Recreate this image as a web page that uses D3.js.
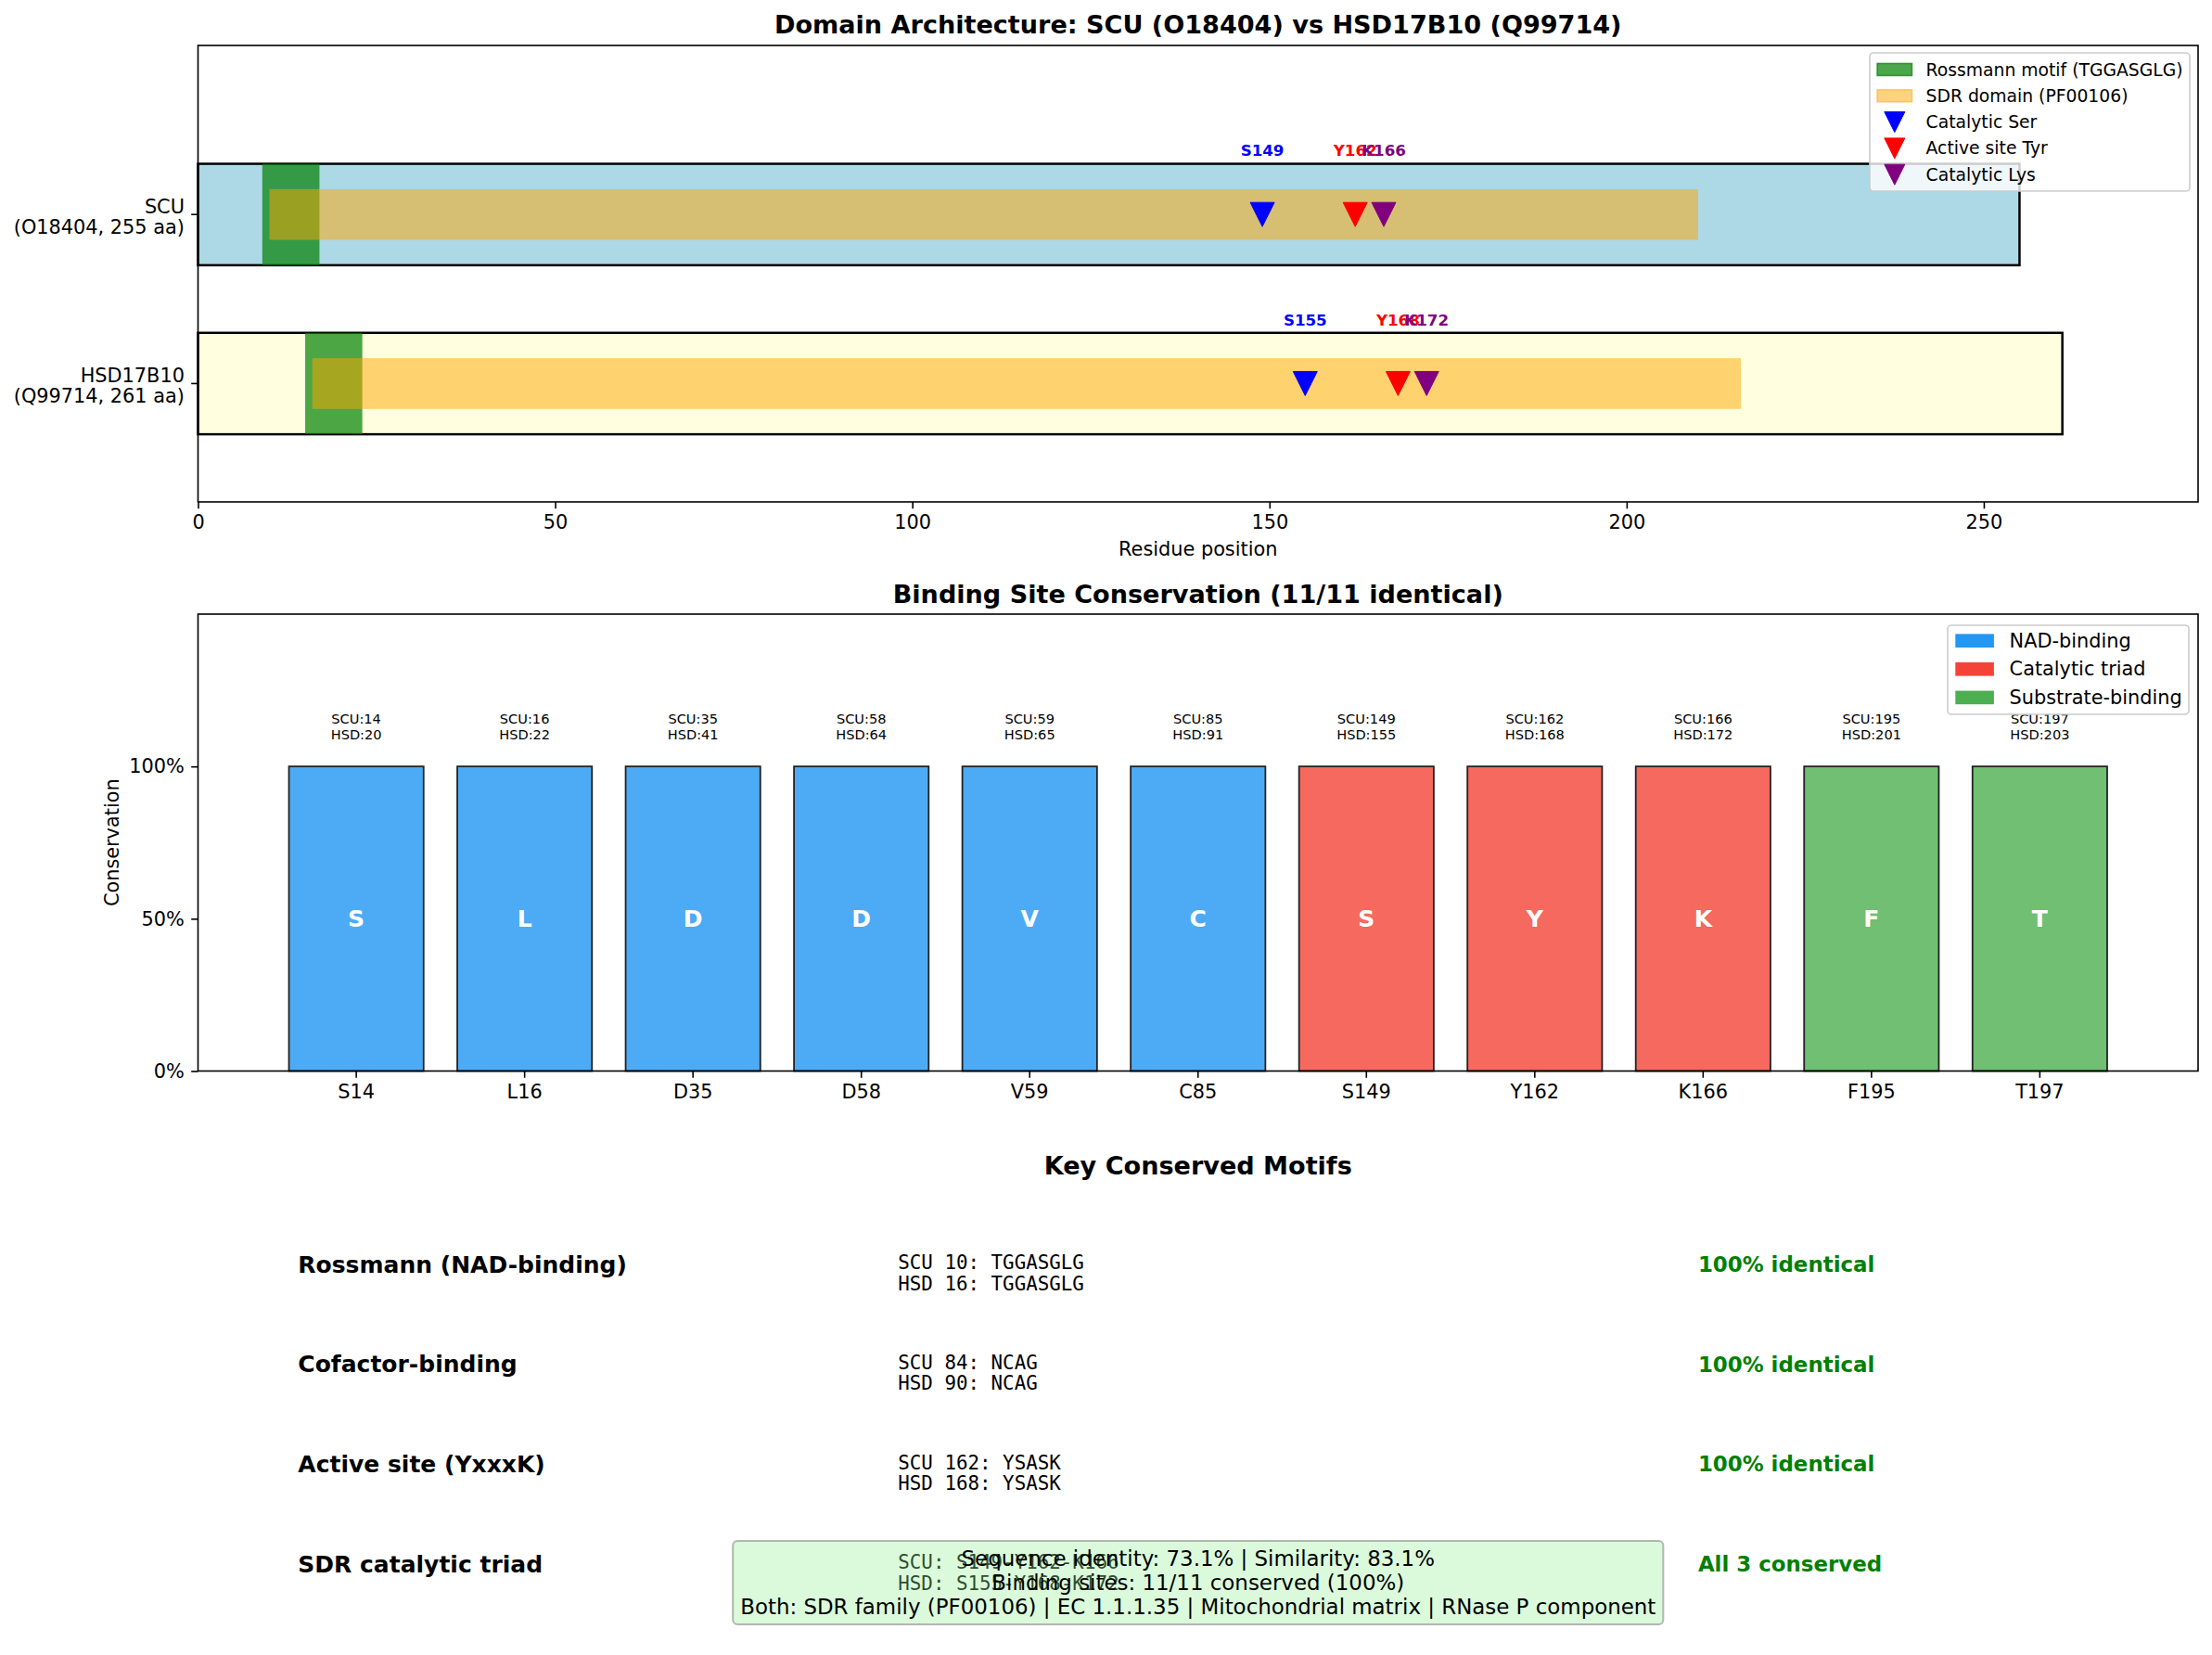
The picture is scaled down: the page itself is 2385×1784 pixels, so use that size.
<!DOCTYPE html>
<html>
<head>
<meta charset="utf-8">
<script src="https://cdn.jsdelivr.net/npm/d3@7"></script>
<style>
  body { margin: 0; background: #fff; }
  svg { display: block; font-family: "DejaVu Sans", sans-serif; }
</style>
</head>
<body>
<div id="chart"></div>
<script>
// ---- data: domain architecture ----
const proteins = ["SCU", "HSD17B10"];
const proteinLabels = [["SCU", "(O18404, 255 aa)"], ["HSD17B10", "(Q99714, 261 aa)"]];
const proteinLengths = [255, 261];
const proteinColors = ["#ADD8E6", "#FFFFE0"];
const rossmannStart = [10, 16];
const rossmannMotif = "TGGASGLG";
const sdrStart = [10, 16];
const sdrEnd = [210, 216];
const catalyticSer = [149, 155];
const activeTyr = [162, 168];
const catalyticLys = [166, 172];
const residueTicks = [0, 50, 100, 150, 200, 250];

// ---- data: binding sites ----
const siteLabels = ["S14", "L16", "D35", "D58", "V59", "C85", "S149", "Y162", "K166", "F195", "T197"];
const siteResidues = ["S", "L", "D", "D", "V", "C", "S", "Y", "K", "F", "T"];
const scuPositions = [14, 16, 35, 58, 59, 85, 149, 162, 166, 195, 197];
const hsdPositions = [20, 22, 41, 64, 65, 91, 155, 168, 172, 201, 203];
const siteTypes = ["NAD", "NAD", "NAD", "NAD", "NAD", "NAD", "Catalytic", "Catalytic", "Catalytic", "Substrate", "Substrate"];
const conservation = [100, 100, 100, 100, 100, 100, 100, 100, 100, 100, 100];
const conservationTicks = [0, 50, 100];

// ---- data: motifs ----
const motifNames = ["Rossmann (NAD-binding)", "Cofactor-binding", "Active site (YxxxK)", "SDR catalytic triad"];
const motifScu = ["SCU 10: TGGASGLG", "SCU 84: NCAG", "SCU 162: YSASK", "SCU: S149-Y162-K166"];
const motifHsd = ["HSD 16: TGGASGLG", "HSD 90: NCAG", "HSD 168: YSASK", "HSD: S155-Y168-K172"];
const motifStatus = ["100% identical", "100% identical", "100% identical", "All 3 conserved"];
const summaryLines = [
    "Sequence identity: 73.1% | Similarity: 83.1%",
    "Binding sites: 11/11 conserved (100%)",
    "Both: SDR family (PF00106) | EC 1.1.1.35 | Mitochondrial matrix | RNase P component"
];

const W = 2385, H = 1784;
const pt = v => v * 150 / 72;
const MONO = "'DejaVu Sans Mono', monospace";

const svg = d3.select("#chart").append("svg")
    .attr("width", W)
    .attr("height", H);

// helper: text block with several lines centred on y
function block(g, lines, x, y, lineH, opts) {
    const t = g.append("text")
        .attr("x", x)
        .attr("text-anchor", opts.anchor || "middle")
        .attr("font-size", opts.size)
        .attr("font-weight", opts.weight || "normal")
        .attr("font-family", opts.family || null)
        .attr("fill", opts.fill || "#000");
    const y0 = y - (lines.length - 1) * lineH / 2;
    lines.forEach((l, i) => {
        t.append("tspan")
            .attr("x", x)
            .attr("y", y0 + i * lineH)
            .attr("dominant-baseline", "central")
            .text(l);
    });
    return t;
}

function styleAxis(g) {
    g.select(".domain").remove();
    g.selectAll(".tick line").attr("stroke", "#000").attr("stroke-width", 1.6);
    g.selectAll(".tick text").attr("font-size", pt(10)).attr("font-family", "DejaVu Sans").attr("fill", "#000");
}

function triangle(size) {
    const s = size / 2;
    return `M${-s},${-s}L${s},${-s}L0,${s}Z`;
}

// ================= Panel 1: domain architecture =================
const p1 = { left: 213.5, right: 2370, top: 49, bottom: 541 };
const x1 = d3.scaleLinear().domain([0, 280]).range([p1.left, p1.right]);
const y1 = d3.scaleLinear().domain([-0.7, 2.0]).range([p1.bottom, p1.top]);
const rowOf = i => proteins.length - 1 - i;   // SCU on top

const g1 = svg.append("g");
proteins.forEach((p, i) => {
    const r = rowOf(i);
    g1.append("rect")
        .attr("x", x1(0)).attr("width", x1(proteinLengths[i]) - x1(0))
        .attr("y", y1(r + 0.3)).attr("height", y1(r - 0.3) - y1(r + 0.3))
        .attr("fill", proteinColors[i])
        .attr("stroke", "#000").attr("stroke-width", 2.5);
    g1.append("rect")
        .attr("x", x1(rossmannStart[i] - 1))
        .attr("width", x1(rossmannStart[i] - 1 + rossmannMotif.length) - x1(rossmannStart[i] - 1))
        .attr("y", y1(r + 0.3)).attr("height", y1(r - 0.3) - y1(r + 0.3))
        .attr("fill", "green").attr("fill-opacity", 0.7);
    g1.append("rect")
        .attr("x", x1(sdrStart[i])).attr("width", x1(sdrEnd[i]) - x1(sdrStart[i]))
        .attr("y", y1(r + 0.15)).attr("height", y1(r - 0.15) - y1(r + 0.15))
        .attr("fill", "orange").attr("fill-opacity", 0.5);

    const marks = [
        { pos: catalyticSer[i], c: "blue", l: "S" },
        { pos: activeTyr[i], c: "red", l: "Y" },
        { pos: catalyticLys[i], c: "purple", l: "K" }
    ];
    marks.forEach(m => {
        g1.append("path")
            .attr("d", triangle(26))
            .attr("transform", `translate(${x1(m.pos)},${y1(r)})`)
            .attr("fill", m.c).attr("stroke", m.c).attr("stroke-width", 1);
        g1.append("text")
            .attr("x", x1(m.pos)).attr("y", y1(r + 0.375))
            .attr("dominant-baseline", "central")
            .attr("text-anchor", "middle")
            .attr("font-size", pt(8)).attr("font-weight", "bold")
            .attr("fill", m.c)
            .text(m.l + m.pos);
    });
});

// axes panel 1
const ax1 = svg.append("g")
    .attr("transform", `translate(0,${p1.bottom})`)
    .call(d3.axisBottom(x1).tickValues(residueTicks).tickSize(7.3).tickPadding(7.3));
styleAxis(ax1);
proteins.forEach((p, i) => {
    const r = rowOf(i);
    svg.append("line")
        .attr("x1", p1.left - 7.3).attr("x2", p1.left)
        .attr("y1", y1(r)).attr("y2", y1(r))
        .attr("stroke", "#000").attr("stroke-width", 1.6);
    block(svg, proteinLabels[i], p1.left - 14.6, y1(r) + 3, 22, { anchor: "end", size: pt(10) });
});
svg.append("rect")
    .attr("x", p1.left).attr("y", p1.top)
    .attr("width", p1.right - p1.left).attr("height", p1.bottom - p1.top)
    .attr("fill", "none").attr("stroke", "#000").attr("stroke-width", 1.6);
svg.append("text")
    .attr("x", (p1.left + p1.right) / 2).attr("y", 592)
    .attr("dominant-baseline", "central").attr("text-anchor", "middle")
    .attr("font-size", pt(10)).text("Residue position");
svg.append("text")
    .attr("x", (p1.left + p1.right) / 2).attr("y", 26)
    .attr("dominant-baseline", "central").attr("text-anchor", "middle")
    .attr("font-size", pt(13)).attr("font-weight", "bold")
    .text("Domain Architecture: SCU (O18404) vs HSD17B10 (Q99714)");

// legend panel 1
const lg1 = svg.append("g");
lg1.append("rect")
    .attr("x", 2016).attr("y", 57).attr("width", 345).attr("height", 149)
    .attr("rx", 4).attr("fill", "#fff").attr("fill-opacity", 0.8)
    .attr("stroke", "#cccccc").attr("stroke-width", 1.6);
const legend1 = [
    { label: "Rossmann motif (TGGASGLG)", kind: "patch", c: "green", o: 0.7 },
    { label: "SDR domain (PF00106)", kind: "patch", c: "orange", o: 0.5 },
    { label: "Catalytic Ser", kind: "marker", c: "blue" },
    { label: "Active site Tyr", kind: "marker", c: "red" },
    { label: "Catalytic Lys", kind: "marker", c: "purple" }
];
legend1.forEach((d, i) => {
    const cy = 75 + i * 28.3;
    if (d.kind === "patch") {
        lg1.append("rect")
            .attr("x", 2024).attr("y", cy - 6.6).attr("width", 37.5).attr("height", 13.1)
            .attr("fill", d.c).attr("fill-opacity", d.o)
            .attr("stroke", d.c).attr("stroke-opacity", d.o).attr("stroke-width", 1.5);
    } else {
        lg1.append("path")
            .attr("d", triangle(22))
            .attr("transform", `translate(${2042.8},${cy})`)
            .attr("fill", d.c).attr("stroke", d.c);
    }
    lg1.append("text")
        .attr("x", 2076.6).attr("y", cy)
        .attr("dominant-baseline", "central")
        .attr("font-size", pt(9)).text(d.label);
});

// ================= Panel 2: binding site conservation =================
const p2 = { left: 213.5, right: 2370, top: 662, bottom: 1154.5 };
const x2 = d3.scaleBand().domain(siteLabels).range([p2.left, p2.right])
    .paddingInner(0.2).paddingOuter(0.54);
const y2 = d3.scaleLinear().domain([0, 150]).range([p2.bottom, p2.top]);
const typeColor = d3.scaleOrdinal()
    .domain(["NAD", "Catalytic", "Substrate"])
    .range(["#2196F3", "#F44336", "#4CAF50"]);

const g2 = svg.append("g");
const sites = siteLabels.map((s, i) => ({
    label: s, res: siteResidues[i], scu: scuPositions[i], hsd: hsdPositions[i],
    type: siteTypes[i], value: conservation[i]
}));
g2.selectAll("rect.bar").data(sites).join("rect")
    .attr("class", "bar")
    .attr("x", d => x2(d.label)).attr("width", x2.bandwidth())
    .attr("y", d => y2(d.value)).attr("height", d => y2(0) - y2(d.value))
    .attr("fill", d => typeColor(d.type)).attr("fill-opacity", 0.8)
    .attr("stroke", "#222").attr("stroke-width", 1.8);
g2.selectAll("text.res").data(sites).join("text")
    .attr("class", "res")
    .attr("x", d => x2(d.label) + x2.bandwidth() / 2)
    .attr("y", d => y2(d.value / 2))
    .attr("dominant-baseline", "central").attr("text-anchor", "middle")
    .attr("font-size", pt(12)).attr("font-weight", "bold").attr("fill", "#fff")
    .text(d => d.res);
sites.forEach(d => {
    block(g2, ["SCU:" + d.scu, "HSD:" + d.hsd],
        x2(d.label) + x2.bandwidth() / 2, y2(d.value) - 43.5, 17, { size: pt(7) });
});

const ax2x = svg.append("g")
    .attr("transform", `translate(0,${p2.bottom})`)
    .call(d3.axisBottom(x2).tickSize(7.3).tickPadding(7.3));
styleAxis(ax2x);
const ax2y = svg.append("g")
    .attr("transform", `translate(${p2.left},0)`)
    .call(d3.axisLeft(y2).tickValues(conservationTicks).tickFormat(d => d + "%").tickSize(7.3).tickPadding(7.3));
styleAxis(ax2y);
svg.append("rect")
    .attr("x", p2.left).attr("y", p2.top)
    .attr("width", p2.right - p2.left).attr("height", p2.bottom - p2.top)
    .attr("fill", "none").attr("stroke", "#000").attr("stroke-width", 1.6);
svg.append("text")
    .attr("transform", `translate(121,${(p2.top + p2.bottom) / 2}) rotate(-90)`)
    .attr("dominant-baseline", "central").attr("text-anchor", "middle")
    .attr("font-size", pt(10)).text("Conservation");
svg.append("text")
    .attr("x", (p2.left + p2.right) / 2).attr("y", 640)
    .attr("dominant-baseline", "central").attr("text-anchor", "middle")
    .attr("font-size", pt(13)).attr("font-weight", "bold")
    .text("Binding Site Conservation (11/11 identical)");

// legend panel 2
const lg2 = svg.append("g");
lg2.append("rect")
    .attr("x", 2100).attr("y", 674).attr("width", 260).attr("height", 96)
    .attr("rx", 4).attr("fill", "#fff").attr("fill-opacity", 0.8)
    .attr("stroke", "#cccccc").attr("stroke-width", 1.6);
const legend2 = [["NAD-binding", "NAD"], ["Catalytic triad", "Catalytic"], ["Substrate-binding", "Substrate"]];
legend2.forEach((d, i) => {
    const cy = 690.7 + i * 30.6;
    lg2.append("rect")
        .attr("x", 2108.3).attr("y", cy - 7.3).attr("width", 41.6).attr("height", 14.6)
        .attr("fill", typeColor(d[1]));
    lg2.append("text")
        .attr("x", 2166.6).attr("y", cy)
        .attr("dominant-baseline", "central")
        .attr("font-size", pt(10)).text(d[0]);
});

// ================= Panel 3: key conserved motifs =================
const p3 = { left: 213.5, right: 2370 };
const x3 = d3.scaleLinear().domain([0, 1]).range([p3.left, p3.right]);
const y3 = d3.scalePoint().domain(motifNames).range([1363, 1686]);
const g3 = svg.append("g");
svg.append("text")
    .attr("x", x3(0.5)).attr("y", 1256)
    .attr("dominant-baseline", "central").attr("text-anchor", "middle")
    .attr("font-size", pt(13)).attr("font-weight", "bold")
    .text("Key Conserved Motifs");
motifNames.forEach((m, i) => {
    const cy = y3(m);
    g3.append("text")
        .attr("x", x3(0.05)).attr("y", cy)
        .attr("dominant-baseline", "central")
        .attr("font-size", pt(12)).attr("font-weight", "bold")
        .text(m);
    block(g3, [motifScu[i], motifHsd[i]], x3(0.35), cy + 9.5, 22.5,
        { anchor: "start", size: pt(10), family: MONO });
    g3.append("text")
        .attr("x", x3(0.75)).attr("y", cy)
        .attr("dominant-baseline", "central")
        .attr("font-size", pt(11)).attr("font-weight", "bold")
        .attr("fill", "green")
        .text(motifStatus[i]);
});

// summary box
const sumG = svg.append("g");
const box = sumG.append("rect");
const sumText = block(sumG, summaryLines, x3(0.5), 1706, 26, { size: pt(11) });
const bb = sumText.node().getBBox();
const pad = 8;
box.attr("x", bb.x - pad).attr("y", 1661)
    .attr("width", bb.width + 2 * pad).attr("height", 90)
    .attr("rx", 5)
    .attr("fill", "#90EE90").attr("fill-opacity", 0.32)
    .attr("stroke", "#888").attr("stroke-opacity", 0.6).attr("stroke-width", 2);
</script>
</body>
</html>
